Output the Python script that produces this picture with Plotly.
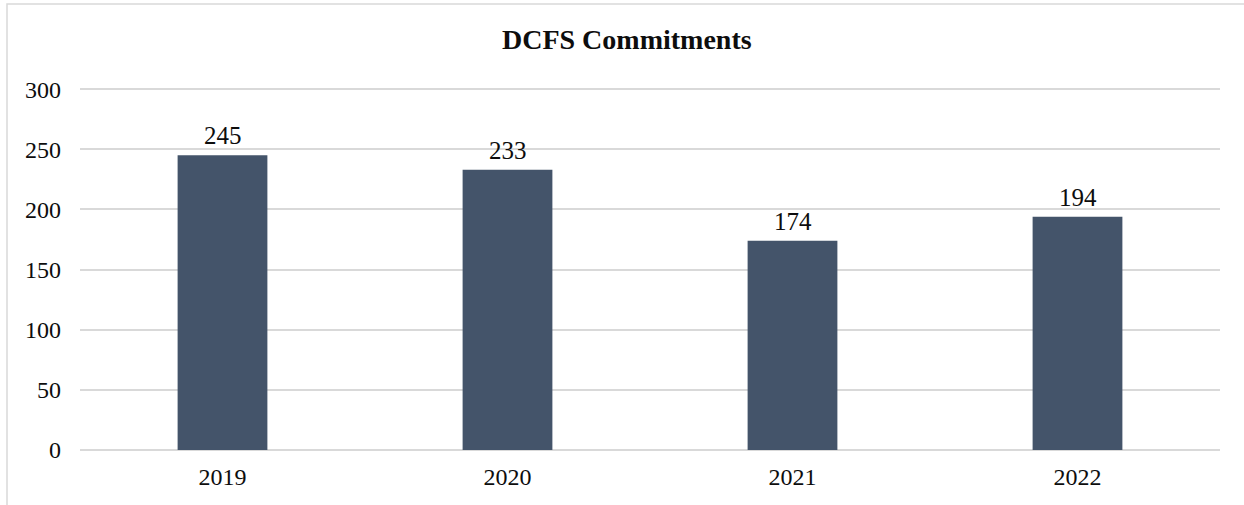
import plotly.graph_objects as go

years = ["2019", "2020", "2021", "2022"]
commitments = [245, 233, 174, 194]
y_ticks = [0, 50, 100, 150, 200, 250, 300]

W, H = 1244, 505
ml, mr, mt, mb = 80, 24, 88, 55
pw = W - ml - mr
ph = H - mt - mb

font_family = "Liberation Serif, Times New Roman, serif"
txt = "#0d0d0d"

fig = go.Figure(go.Bar(
    x=years, y=commitments,
    marker=dict(color="#44546A", line=dict(width=0)),
    width=0.315,
    hoverinfo="x+y",
))

# value labels; on a category axis the annotation x is the category index
for i, v in enumerate(commitments):
    fig.add_annotation(
        x=i, y=v, xref="x", yref="y", text=str(v), showarrow=False,
        xanchor="center", yanchor="bottom", yshift=4,
        font=dict(family=font_family, size=25, color=txt),
    )

fig.update_layout(
    width=W, height=H,
    margin=dict(l=ml, r=mr, t=mt, b=mb),
    paper_bgcolor="white", plot_bgcolor="white",
    showlegend=False,
    font=dict(family=font_family, size=24, color=txt),
)
fig.update_yaxes(
    range=[0, 301], tickvals=y_ticks, showgrid=True, gridcolor="#d9d9d9", gridwidth=1.5,
    zeroline=True, zerolinecolor="#d9d9d9", zerolinewidth=1.5, showline=False,
    ticks="", ticklabelstandoff=18, tickfont=dict(size=24),
)
fig.update_xaxes(type="category", categoryorder="array", categoryarray=years,
                 range=[-0.5, len(years) - 0.5],
                 showgrid=False, showline=False, ticks="", ticklabelstandoff=10,
                 tickfont=dict(size=24))

fig.add_annotation(
    text="<b>DCFS Commitments</b>", xref="paper", yref="paper",
    x=(627 - ml) / pw, y=1 + (mt - 40) / ph, xanchor="center", yanchor="middle",
    showarrow=False, font=dict(family=font_family, size=28, color=txt),
)
fig.add_shape(
    type="rect", xref="paper", yref="paper",
    x0=(7 - ml) / pw, x1=(W + 20 - ml) / pw,
    y0=-(mb + 20) / ph, y1=1 + (mt - 4) / ph,
    line=dict(color="#d9d9d9", width=1.5), fillcolor="rgba(0,0,0,0)", layer="below",
)

fig.write_html(
    "out.html",
    config={"displayModeBar": False},
    post_script="document.body.style.margin='0px';document.body.style.overflow='hidden';",
)
